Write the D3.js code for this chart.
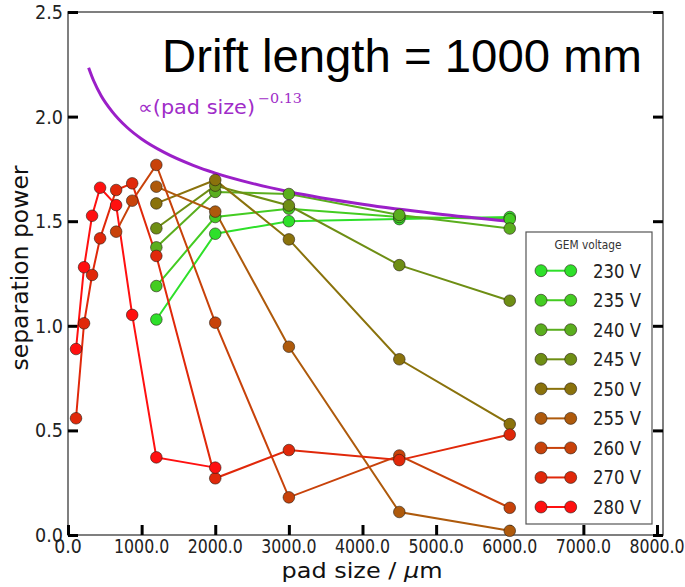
<!DOCTYPE html>
<html>
<head>
<meta charset="utf-8">
<script src="https://cdnjs.cloudflare.com/ajax/libs/d3/7.8.5/d3.min.js"></script>
<style>
  html, body { margin: 0; padding: 0; background: #fff; }
  svg { display: block; }
</style>
</head>
<body>
<svg id="chart" width="685" height="587"></svg>
<script>
// ---------------- data ----------------
const padSizes = [109, 218, 327, 436, 654, 872, 1200, 2000, 3000, 4500, 6000];
const voltages = ["230 V", "235 V", "240 V", "245 V", "250 V", "255 V", "260 V", "270 V", "280 V"];
const colors   = ["#2ee02a", "#44cc22", "#5aae1e", "#6e8e14", "#8a720c", "#ae5a0c", "#c8420a", "#e0280a", "#ff1010"];
const v230 = [null, null, null, null, null, null, 1.03, 1.44, 1.50, 1.51, 1.52];
const v235 = [null, null, null, null, null, null, 1.19, 1.52, 1.56, 1.52, 1.51];
const v240 = [null, null, null, null, null, null, 1.375, 1.64, 1.63, 1.53, 1.465];
const v245 = [null, null, null, null, null, null, 1.466, 1.67, 1.575, 1.29, 1.12];
const v250 = [null, null, null, null, null, null, 1.585, 1.697, 1.413, 0.84, 0.53];
const v255 = [null, null, null, null, null, null, 1.665, 1.546, 0.90, 0.11, 0.02];
const v260 = [null, null, null, null, 1.45, 1.598, 1.769, 1.015, 0.18, 0.38, 0.13];
const v270 = [0.558, 1.012, 1.243, 1.418, 1.649, 1.681, 1.334, 0.271, 0.406, 0.358, 0.48];
const v280 = [0.889, 1.28, 1.526, 1.66, 1.577, 1.052, 0.371, 0.322, null, null, null];
const seriesValues = [v230, v235, v240, v245, v250, v255, v260, v270, v280];

// power-law guide curve
const fitX = [280, 350, 450, 600, 800, 1000, 1300, 1700, 2000, 2500, 3000, 4000, 5000, 6000];
const fitY = [2.234, 2.170, 2.100, 2.024, 1.949, 1.893, 1.830, 1.767, 1.730, 1.681, 1.641, 1.581, 1.536, 1.500];

const xTicks = [0, 1000, 2000, 3000, 4000, 5000, 6000, 7000, 8000];
const yTicks = [0, 0.5, 1.0, 1.5, 2.0, 2.5];

// ---------------- layout ----------------
const svg = d3.select("#chart");
const pLeft = 68, pRight = 657, frameRight = 663, pTop = 12, pBottom = 535;
const x = d3.scaleLinear().domain([0, 8000]).range([pLeft, pRight]);
const y = d3.scaleLinear().domain([0, 2.5]).range([pBottom, pTop]);
const FONT = "DejaVu Sans, Verdana, sans-serif";

// frame
svg.append("rect").attr("x", pLeft).attr("y", pTop)
  .attr("width", frameRight - pLeft).attr("height", pBottom - pTop)
  .attr("fill", "none").attr("stroke", "#555").attr("stroke-width", 1.5);

// axes (ticks inward)
const xAxis = d3.axisTop(x).tickValues(xTicks).tickSize(10).tickFormat("");
const gx = svg.append("g").attr("transform", `translate(0,${pBottom})`).call(xAxis);
const yAxisL = d3.axisRight(y).tickValues(yTicks).tickSize(10).tickFormat("");
const gyl = svg.append("g").attr("transform", `translate(${pLeft},0)`).call(yAxisL);
const yAxisR = d3.axisLeft(y).tickValues(yTicks).tickSize(10).tickFormat("");
const gyr = svg.append("g").attr("transform", `translate(${frameRight},0)`).call(yAxisR);
[gx, gyl, gyr].forEach(g => {
  g.select(".domain").remove();
  g.selectAll(".tick line").attr("stroke", "#000").attr("stroke-width", 3);
});

// tick labels
const fmt = d3.format(".1f");
svg.append("g").selectAll("text").data(xTicks).join("text")
  .attr("x", d => x(d)).attr("y", 553)
  .attr("text-anchor", "middle")
  .attr("font-family", FONT).attr("font-size", 20).attr("fill", "#222")
  .attr("textLength", d => fmt(d).length * 9.2).attr("lengthAdjust", "spacingAndGlyphs")
  .text(d => fmt(d));
svg.append("g").selectAll("text").data(yTicks).join("text")
  .attr("x", 63).attr("y", d => y(d) + 7)
  .attr("text-anchor", "end")
  .attr("font-family", FONT).attr("font-size", 20).attr("fill", "#222")
  .attr("textLength", 28).attr("lengthAdjust", "spacingAndGlyphs")
  .text(d => fmt(d));

// axis titles
svg.append("text")
  .attr("transform", "translate(28,268) rotate(-90)")
  .attr("text-anchor", "middle")
  .attr("font-family", FONT).attr("font-size", 23).attr("fill", "#111")
  .attr("textLength", 205).attr("lengthAdjust", "spacingAndGlyphs")
  .text("separation power");
const xl = svg.append("text")
  .attr("x", 362).attr("y", 578)
  .attr("text-anchor", "middle")
  .attr("font-family", FONT).attr("font-size", 22).attr("fill", "#111")
  .attr("textLength", 161).attr("lengthAdjust", "spacingAndGlyphs");
xl.append("tspan").text("pad size / ");
xl.append("tspan").attr("font-style", "italic").text("μ");
xl.append("tspan").text("m");

// series lines
const line = d3.line()
  .defined(d => d.v !== null)
  .x(d => x(d.p)).y(d => y(d.v));
const series = seriesValues.map((vals, i) => ({
  name: voltages[i], color: colors[i],
  pts: vals.map((v, j) => ({ p: padSizes[j], v: v }))
}));
svg.append("g").selectAll("path").data(series).join("path")
  .attr("d", s => line(s.pts))
  .attr("fill", "none").attr("stroke", s => s.color).attr("stroke-width", 2);

// guide curve
const fitLine = d3.line().curve(d3.curveMonotoneX).x((d, i) => x(fitX[i])).y(d => y(d));
svg.append("path").attr("d", fitLine(fitY))
  .attr("fill", "none").attr("stroke", "#9b1fc8").attr("stroke-width", 3);

// markers
series.forEach(s => {
  svg.append("g").selectAll("circle").data(s.pts.filter(d => d.v !== null)).join("circle")
    .attr("cx", d => x(d.p)).attr("cy", d => y(d.v)).attr("r", 5.8)
    .attr("fill", s.color).attr("stroke", "rgba(40,30,20,0.6)").attr("stroke-width", 1);
});

// curve label
svg.append("text").attr("x", 138).attr("y", 114)
  .attr("font-family", FONT).attr("font-size", 19).attr("fill", "#a02cc8")
  .attr("textLength", 117).attr("lengthAdjust", "spacingAndGlyphs")
  .text("∝(pad size)");
svg.append("text").attr("x", 258).attr("y", 103)
  .attr("font-family", "DejaVu Serif, serif").attr("font-size", 13).attr("fill", "#a02cc8")
  .attr("textLength", 44).attr("lengthAdjust", "spacingAndGlyphs")
  .text("−0.13");

// title
svg.append("text").attr("x", 162).attr("y", 72)
  .attr("font-family", "Liberation Sans, Arial, sans-serif").attr("font-size", 47).attr("fill", "#000")
  .attr("textLength", 480).attr("lengthAdjust", "spacingAndGlyphs")
  .text("Drift length = 1000 mm");

// legend
const lg = svg.append("g");
lg.append("rect").attr("x", 526).attr("y", 232).attr("width", 126).attr("height", 292)
  .attr("fill", "#fff").attr("stroke", "#555").attr("stroke-width", 1.2);
lg.append("text").attr("x", 588).attr("y", 249).attr("text-anchor", "middle")
  .attr("font-family", FONT).attr("font-size", 12).attr("fill", "#333")
  .attr("textLength", 67).attr("lengthAdjust", "spacingAndGlyphs")
  .text("GEM voltage");
const legY = d3.scaleLinear().domain([0, 8]).range([270.7, 507]);
series.forEach((s, i) => {
  const yy = legY(i);
  lg.append("line").attr("x1", 541).attr("x2", 570.7).attr("y1", yy).attr("y2", yy)
    .attr("stroke", s.color).attr("stroke-width", 2);
  [541, 570.7].forEach(cx => lg.append("circle").attr("cx", cx).attr("cy", yy).attr("r", 6)
    .attr("fill", s.color).attr("stroke", "rgba(40,30,20,0.6)").attr("stroke-width", 1));
  lg.append("text").attr("x", 593).attr("y", yy + 7)
    .attr("font-family", FONT).attr("font-size", 20).attr("fill", "#222")
    .attr("textLength", 48).attr("lengthAdjust", "spacingAndGlyphs")
    .text(s.name);
});
</script>
</body>
</html>
